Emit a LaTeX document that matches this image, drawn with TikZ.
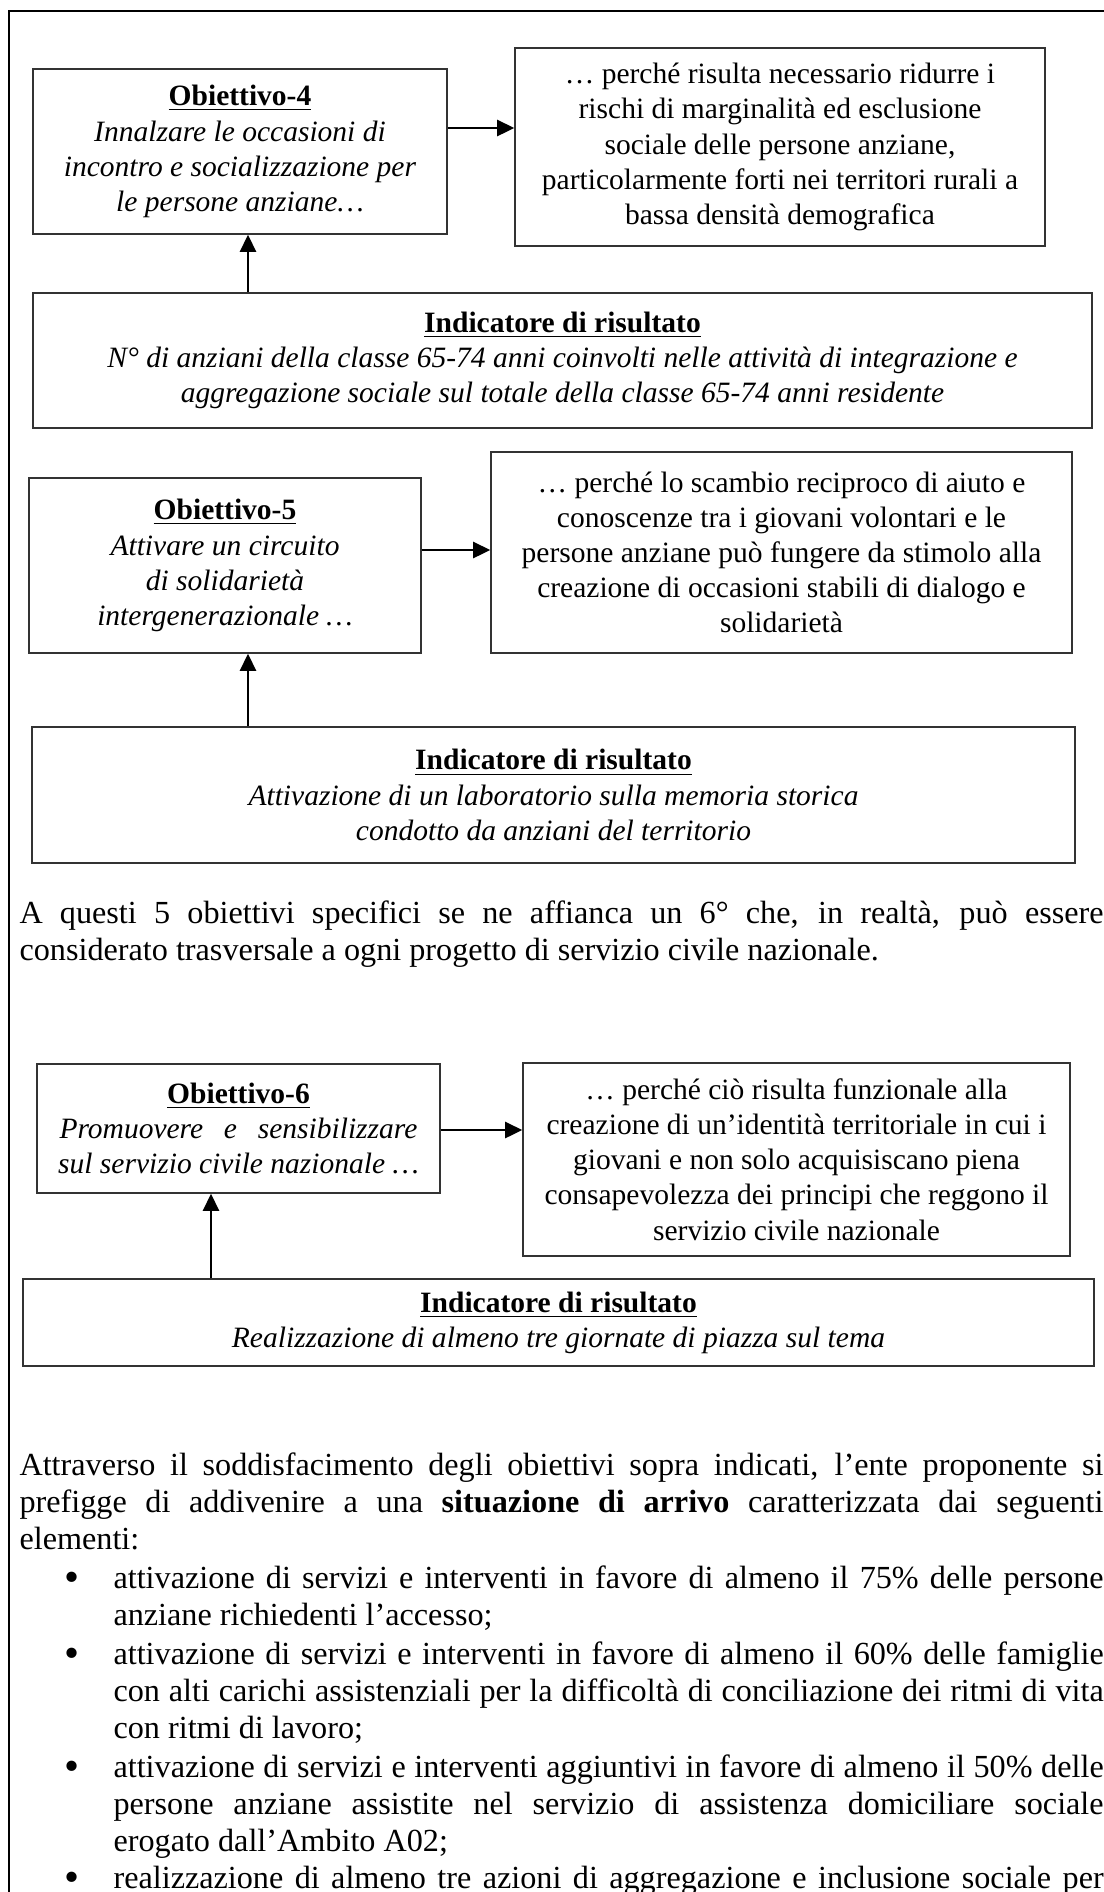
\documentclass[tikz,border=0pt]{standalone}
\usepackage{fontspec}
\setmainfont{Liberation Serif}
\usetikzlibrary{arrows.meta}
\begin{document}
\begin{tikzpicture}[x=0.3727pt, y=-0.3727pt,
  box/.style={draw=black!80, line width=0.55pt, inner sep=0pt, align=center, font=\fontsize{11}{13.1}\selectfont},
  arr/.style={line width=0.95pt, -{Triangle[length=6.4pt,width=6pt]}},
  body/.style={inner sep=0pt, anchor=base west, font=\fontsize{12}{13.8}\selectfont},
  bul/.style={inner sep=0pt, anchor=base west, font=\fontsize{16}{16}\selectfont},
  frame/.style={line width=0.8pt, black}
]
\def\u{0.3727pt}
\useasboundingbox (0,0) rectangle (1104,1892);
\clip (0,0) rectangle (1104,1892);
\fill[white] (0,0) rectangle (1104,1892);
% outer frame (right and bottom edges lie outside the page)
\draw[frame] (1130,10.7) -- (9,10.7) -- (9,1920);

% ---------------- Objective 4 ----------------
\node[box, minimum width={414*\u}, minimum height={165*\u}] (o4) at (240,151.5)
  {\underline{\textbf{Obiettivo-4}}\\ \textit{Innalzare le occasioni di}\\ \textit{incontro e socializzazione per}\\ \textit{le persone anziane…}};
\node[box, minimum width={530*\u}, minimum height={198*\u}] (r4) at (780,147)
  {… perché risulta necessario ridurre i\\ rischi di marginalità ed esclusione\\ sociale delle persone anziane,\\ particolarmente forti nei territori rurali a\\ bassa densità demografica};
\node[box, minimum width={1059*\u}, minimum height={135*\u}] (i4) at (562.5,360.5)
  {\underline{\textbf{Indicatore di risultato}}\\ \textit{N° di anziani della classe 65-74 anni coinvolti nelle attività di integrazione e}\\ \textit{aggregazione sociale sul totale della classe 65-74 anni residente}};
\coordinate (h4) at (0,128);
\coordinate (v4) at (248,0);
\draw[arr] (o4.east |- h4) -- (r4.west |- h4);
\draw[arr] (i4.north -| v4) -- (o4.south -| v4);

% ---------------- Objective 5 ----------------
\node[box, minimum width={392*\u}, minimum height={175*\u}] (o5) at (225,565.5)
  {\underline{\textbf{Obiettivo-5}}\\ \textit{Attivare un circuito}\\ \textit{di solidarietà}\\ \textit{intergenerazionale …}};
\node[box, minimum width={581*\u}, minimum height={201*\u}] (r5) at (781.5,552.5)
  {… perché lo scambio reciproco di aiuto e\\ conoscenze tra i giovani volontari e le\\ persone anziane può fungere da stimolo alla\\ creazione di occasioni stabili di dialogo e\\ solidarietà};
\node[box, minimum width={1043*\u}, minimum height={136*\u}] (i5) at (553.5,795)
  {\underline{\textbf{Indicatore di risultato}}\\ \textit{Attivazione di un laboratorio sulla memoria storica}\\ \textit{condotto da anziani del territorio}};
\coordinate (h5) at (0,550);
\coordinate (v5) at (248,0);
\draw[arr] (o5.east |- h5) -- (r5.west |- h5);
\draw[arr] (i5.north -| v5) -- (o5.south -| v5);

% ---------------- paragraph ----------------
\node[body] (t1) at (19,923) {\makebox[404pt][s]{A questi 5 obiettivi specifici se ne affianca un 6° che, in realtà, può essere}};
\node[body] (t2) at (19,960) {considerato trasversale a ogni progetto di servizio civile nazionale.};

% ---------------- Objective 6 ----------------
\node[box, minimum width={403*\u}, minimum height={129*\u}] (o6) at (238.5,1128.5)
  {\underline{\textbf{Obiettivo-6}}\\ \textit{\makebox[133.4pt][s]{Promuovere e sensibilizzare}}\\ \textit{sul servizio civile nazionale …}};
\node[box, minimum width={547*\u}, minimum height={193*\u}] (r6) at (796.5,1159.5)
  {… perché ciò risulta funzionale alla\\ creazione di un’identità territoriale in cui i\\ giovani e non solo acquisiscano piena\\ consapevolezza dei principi che reggono il\\ servizio civile nazionale};
\node[box, minimum width={1071*\u}, minimum height={87*\u}] (i6) at (558.5,1322.5)
  {\underline{\textbf{Indicatore di risultato}}\\ \textit{Realizzazione di almeno tre giornate di piazza sul tema}};
\coordinate (h6) at (0,1130);
\coordinate (v6) at (211,0);
\draw[arr] (o6.east |- h6) -- (r6.west |- h6);
\draw[arr] (i6.north -| v6) -- (o6.south -| v6);

% ---------------- closing text ----------------
\node[body] (a1) at (19,1475) {\makebox[404pt][s]{Attraverso il soddisfacimento degli obiettivi sopra indicati, l’ente proponente si}};
\node[body] (a2) at (19,1512) {\makebox[404pt][s]{prefigge di addivenire a una \textbf{situazione di arrivo} caratterizzata dai seguenti}};
\node[body] (a3) at (19,1549) {elementi:};

\node[bul] (b1) at (64,1588) {\raisebox{-1.2pt}{•}};
\node[body] (b1a) at (113,1588) {\makebox[369pt][s]{attivazione di servizi e interventi in favore di almeno il 75\% delle persone}};
\node[body] (b1b) at (113,1625) {anziane richiedenti l’accesso;};

\node[bul] (b2) at (64,1664) {\raisebox{-1.2pt}{•}};
\node[body] (b2a) at (113,1664) {\makebox[369pt][s]{attivazione di servizi e interventi in favore di almeno il 60\% delle famiglie}};
\node[body] (b2b) at (113,1701) {\makebox[369pt][s]{con alti carichi assistenziali per la difficoltà di conciliazione dei ritmi di vita}};
\node[body] (b2c) at (113,1738) {con ritmi di lavoro;};

\node[bul] (b3) at (64,1777) {\raisebox{-1.2pt}{•}};
\node[body] (b3a) at (113,1777) {\makebox[369pt][s]{attivazione di servizi e interventi aggiuntivi in favore di almeno il 50\% delle}};
\node[body] (b3b) at (113,1814) {\makebox[369pt][s]{persone anziane assistite nel servizio di assistenza domiciliare sociale}};
\node[body] (b3c) at (113,1851) {erogato dall’Ambito A02;};

\node[bul] (b4) at (64,1888) {\raisebox{-1.2pt}{•}};
\node[body] (b4a) at (113,1888) {\makebox[369pt][s]{realizzazione di almeno tre azioni di aggregazione e inclusione sociale per}};
\end{tikzpicture}
\end{document}
